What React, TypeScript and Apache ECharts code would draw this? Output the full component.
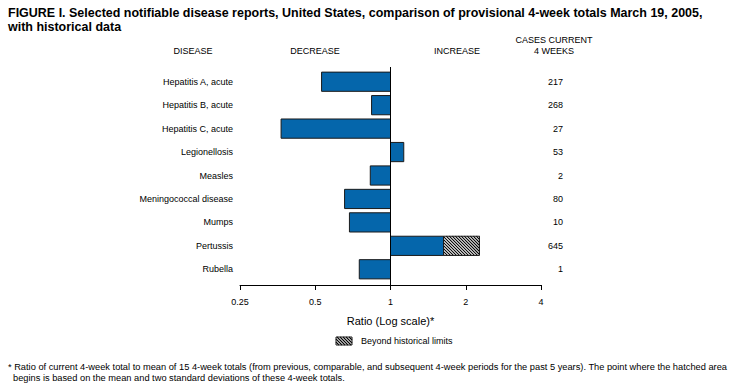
import React, { useEffect, useRef } from "react";
import * as echarts from "echarts";

const diseases = [
  "Hepatitis A, acute",
  "Hepatitis B, acute",
  "Hepatitis C, acute",
  "Legionellosis",
  "Measles",
  "Meningococcal disease",
  "Mumps",
  "Pertussis",
  "Rubella",
];
// ratio of current 4-week total to historical mean
const ratios = [0.53, 0.84, 0.365, 1.13, 0.83, 0.655, 0.685, 1.63, 0.75];
// end of the hatched "beyond historical limits" part (null = none)
const beyondLimits: (number | null)[] = [null, null, null, null, null, null, null, 2.27, null];
const casesCurrent = ["217", "268", "27", "53", "2", "80", "10", "645", "1"];
const tickLabels = ["0.25", "0.5", "1", "2", "4"];

const titleLines = [
  "FIGURE I. Selected notifiable disease reports, United States, comparison of provisional 4-week totals March 19, 2005,",
  "with historical data",
];
const footLines = [
  "* Ratio of current 4-week total to mean of 15 4-week totals (from previous, comparable, and subsequent 4-week periods for the past 5 years). The point where the hatched area",
  "begins is based on the mean and two standard deviations of these 4-week totals.",
];

const FONT = "'Liberation Sans', Arial, Helvetica, sans-serif";
const BLUE = "#0566AB";
const EDGE = "#1a1a1a";

function measure(text: string, font: string): number {
  const c = document.createElement("canvas");
  const ctx = c.getContext("2d");
  if (!ctx) return text.length * 6;
  ctx.font = font;
  return ctx.measureText(text).width;
}

function hatchLines(x0: number, y0: number, x1: number, y1: number, step: number, lw: number) {
  const out: any[] = [];
  const cStart = Math.ceil((x0 - y1) / step) * step;
  for (let c = cStart; c <= x1 - y0; c += step) {
    const xs = Math.max(x0, y0 + c);
    const xe = Math.min(x1, y1 + c);
    if (xe > xs) {
      out.push({
        type: "line",
        shape: { x1: xs, y1: xs - c, x2: xe, y2: xe - c },
        style: { stroke: "#000", lineWidth: lw },
        silent: true,
      });
    }
  }
  return out;
}

export default function App() {
  const ref = useRef<HTMLDivElement>(null);
  useEffect(() => {
    if (!ref.current) return;
    const chart = echarts.init(ref.current, null, { renderer: "svg" });

    const segs: any[] = [];
    ratios.forEach((r, i) => {
      segs.push([Math.min(r, 1), Math.max(r, 1), i, 0]);
      const b = beyondLimits[i];
      if (b != null) segs.push([r, b, i, 1]);
    });

    const renderItem = (params: any, api: any) => {
      const s = api.value(0);
      const e = api.value(1);
      const idx = api.value(2);
      const kind = api.value(3);
      const p0 = api.coord([s, idx]);
      const p1 = api.coord([e, idx]);
      const band = api.size([1, 1])[1];
      const h = band * 0.82;
      const x = p0[0];
      const w = p1[0] - p0[0];
      const y = p0[1] - h / 2;
      if (kind === 0) {
        return {
          type: "rect",
          shape: { x, y, width: w, height: h },
          style: { fill: BLUE, stroke: EDGE, lineWidth: 1 },
        };
      }
      return {
        type: "group",
        children: [
          { type: "rect", shape: { x, y, width: w, height: h }, style: { fill: "#fff" } },
          ...hatchLines(x, y, x + w, y + h, 3, 1.1),
          { type: "rect", shape: { x, y, width: w, height: h }, style: { fill: "none", stroke: EDGE, lineWidth: 1 } },
        ],
      };
    };

    const titleFont = `bold 13.5px ${FONT}`;
    const titleScale = 695 / measure(titleLines[0], titleFont);
    const footFont = `9px ${FONT}`;
    const footScale = 721 / measure(footLines[0], footFont);

    const lx = 336, ly = 337, lw = 16, lh = 8;
    const baseGraphic: any[] = [
      {
        type: "text", x: 8, y: 12, scaleX: titleScale, originX: 0,
        style: { text: titleLines[0], font: titleFont, fill: "#000", verticalAlign: "middle" },
      },
      {
        type: "text", x: 8, y: 26, scaleX: titleScale, originX: 0,
        style: { text: titleLines[1], font: titleFont, fill: "#000", verticalAlign: "middle" },
      },
      { type: "text", x: 193, y: 51, style: { text: "DISEASE", font: `9px ${FONT}`, fill: "#000", align: "center", verticalAlign: "middle" } },
      { type: "text", x: 315, y: 51, style: { text: "DECREASE", font: `9px ${FONT}`, fill: "#000", align: "center", verticalAlign: "middle" } },
      { type: "text", x: 457, y: 51, style: { text: "INCREASE", font: `9px ${FONT}`, fill: "#000", align: "center", verticalAlign: "middle" } },
      { type: "text", x: 554, y: 40, style: { text: "CASES CURRENT", font: `9px ${FONT}`, fill: "#000", align: "center", verticalAlign: "middle" } },
      { type: "text", x: 554, y: 51, style: { text: "4 WEEKS", font: `9px ${FONT}`, fill: "#000", align: "center", verticalAlign: "middle" } },
      { type: "rect", shape: { x: lx, y: ly, width: lw, height: lh }, style: { fill: "#fff" } },
      ...hatchLines(lx, ly, lx + lw, ly + lh, 3, 1.1),
      { type: "rect", shape: { x: lx, y: ly, width: lw, height: lh }, style: { fill: "none", stroke: EDGE, lineWidth: 1 } },
      { type: "text", x: 361, y: 341, style: { text: "Beyond historical limits", font: `9px ${FONT}`, fill: "#000", verticalAlign: "middle" } },
      {
        type: "text", x: 8, y: 367, scaleX: footScale, originX: 0,
        style: { text: footLines[0], font: footFont, fill: "#000", verticalAlign: "middle" },
      },
      {
        type: "text", x: 13, y: 378, scaleX: footScale, originX: 0,
        style: { text: footLines[1], font: footFont, fill: "#000", verticalAlign: "middle" },
      },
    ];

    chart.setOption({
      animation: false,
      backgroundColor: "#fff",
      textStyle: { fontFamily: FONT },
      grid: { left: 240, right: 196, top: 70, bottom: 110 },
      xAxis: {
        type: "log",
        logBase: 2,
        min: 0.25,
        max: 4,
        offset: 4,
        splitLine: { show: false },
        axisLine: { show: true, lineStyle: { color: "#000", width: 1 } },
        axisTick: { show: true, length: 5, lineStyle: { color: "#000" } },
        axisLabel: {
          fontSize: 9, color: "#000", margin: 12, fontFamily: FONT,
          formatter: (v: number) => {
            const k = Math.round(Math.log2(v)) + 2;
            return tickLabels[k] ?? String(v);
          },
        },
        name: "Ratio (Log scale)*",
        nameLocation: "middle",
        nameGap: 30,
        nameTextStyle: { fontSize: 11, color: "#000", fontFamily: FONT },
      },
      yAxis: [
        {
          type: "category",
          inverse: true,
          data: diseases,
          axisLine: { show: false },
          axisTick: { show: false },
          splitLine: { show: false },
          axisLabel: { fontSize: 9, color: "#000", margin: 7, fontFamily: FONT },
        },
        {
          type: "category",
          inverse: true,
          position: "right",
          data: casesCurrent,
          axisLine: { show: false },
          axisTick: { show: false },
          splitLine: { show: false },
          axisLabel: { fontSize: 9, color: "#000", margin: 22, align: "right", fontFamily: FONT },
        },
      ],
      series: [
        {
          type: "custom",
          renderItem,
          encode: { x: [0, 1], y: 2 },
          data: segs,
          z: 3,
        },
      ],
      graphic: baseGraphic,
    });

    const px = chart.convertToPixel({ gridIndex: 0 }, [1, 0]) as number[];
    chart.setOption({
      graphic: [
        ...baseGraphic,
        { type: "line", z: 10, shape: { x1: px[0], y1: 67, x2: px[0], y2: 285 }, style: { stroke: "#000", lineWidth: 1 } },
      ],
    });

    return () => chart.dispose();
  }, []);
  return (
    <div
      ref={ref}
      style={{ position: "absolute", left: 0, top: 0, width: 737, height: 391 }}
    />
  );
}
